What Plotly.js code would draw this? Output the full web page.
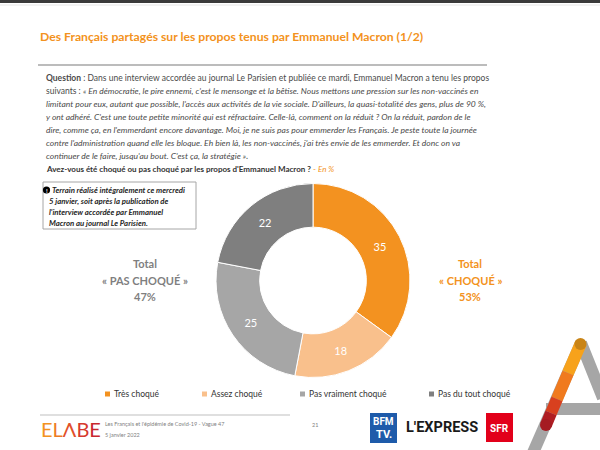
<!DOCTYPE html>
<html><head><meta charset="utf-8">
<script src="https://cdn.plot.ly/plotly-3.0.1.min.js"></script>
<style>html,body{margin:0;padding:0;background:#fff}#chart{width:600px;height:450px}</style>
</head><body><div id="chart"></div>
<script>
// ---- data ----
const labels = ["Très choqué", "Assez choqué", "Pas vraiment choqué", "Pas du tout choqué"];
const values = [35, 18, 25, 22];
const colors = ["#F39220", "#F9C08C", "#A6A6A6", "#7F7F7F"];
const totalLabels = ["Total", "« PAS CHOQUÉ »", "Total", "« CHOQUÉ »"];
const totalChoque = values[0] + values[1];
const totalPasChoque = values[2] + values[3];

const titleText = "Des Français partagés sur les propos tenus par Emmanuel Macron (1/2)";
const questionLines = [
  "<b>Question</b> : Dans une interview accordée au journal Le Parisien et publiée ce mardi, Emmanuel Macron a tenu les propos",
  "suivants : <i>« En démocratie, le pire ennemi, c'est le mensonge et la bêtise. Nous mettons une pression sur les non-vaccinés en</i>",
  "<i>limitant pour eux, autant que possible, l'accès aux activités de la vie sociale. D'ailleurs, la quasi-totalité des gens, plus de 90 %,</i>",
  "<i>y ont adhéré. C'est une toute petite minorité qui est réfractaire. Celle-là, comment on la réduit ? On la réduit, pardon de le</i>",
  "<i>dire, comme ça, en l'emmerdant encore davantage. Moi, je ne suis pas pour emmerder les Français. Je peste toute la journée</i>",
  "<i>contre l'administration quand elle les bloque. Eh bien là, les non-vaccinés, j'ai très envie de les emmerder. Et donc on va</i>",
  "<i>continuer de le faire, jusqu'au bout. C'est ça, la stratégie »</i>."
];
const questionAsk = "<b>Avez-vous été choqué ou pas choqué par les propos d'Emmanuel Macron ?</b> <span style='color:#F39220'>- <i>En %</i></span>";
const noteLines = [
  "Terrain réalisé intégralement ce mercredi",
  "5 janvier, soit après la publication de",
  "l'interview accordée par Emmanuel",
  "Macron au journal Le Parisien."
];
const footerLines = ["Les Français et l'épidémie de Covid-19 - Vague 47", "5 janvier 2022"];
const pageNumber = "21";

// ---- helpers (pixel -> paper) ----
const W = 600, H = 450;
const X = x => x / W;
const Y = y => 1 - y / H;
const FONT = "Lato, 'Open Sans', sans-serif";
const TXT = "#4a4a4a";

const annotations = [];
const shapes = [];
function ann(x, y, text, opts) {
  annotations.push(Object.assign({
    xref: "paper", yref: "paper", x: X(x), y: Y(y), text: text, showarrow: false,
    xanchor: "left", yanchor: "middle", font: {family: FONT, size: 9, color: TXT}
  }, opts || {}));
}
function seg(x0, y0, x1, y1, color, w) {
  shapes.push({type: "line", xref: "paper", yref: "paper", x0: X(x0), x1: X(x1), y0: Y(y0), y1: Y(y1), line: {color: color, width: w}});
}
function dot(cx, cy, r, color) {
  shapes.push({type: "circle", xref: "paper", yref: "paper", x0: X(cx - r), x1: X(cx + r), y0: Y(cy + r), y1: Y(cy - r), fillcolor: color, line: {width: 0}});
}

// top dark bar
shapes.push({type: "rect", xref: "paper", yref: "paper", x0: 0, x1: 1, y0: Y(3), y1: Y(0), fillcolor: "#3a3a3a", line: {width: 0}});
seg(0, 5, 600, 5, "#e6e6e6", 1);

// title
ann(38, 37, "<b>" + titleText + "</b>", {font: {family: FONT, size: 12.2, color: "#F39220"}});
// rule
seg(38, 65, 487, 65, "#A6A6A6", 1.5);

// question
questionLines.forEach((t, i) => ann(44, 78 + i * 13, t, {font: {family: FONT, size: 8.5, color: TXT}}));
ann(44, 169, questionAsk, {font: {family: FONT, size: 8, color: "#333"}});

// note box
shapes.push({type: "rect", xref: "paper", yref: "paper", x0: X(43), x1: X(196), y0: Y(229), y1: Y(182), fillcolor: "rgba(0,0,0,0)", line: {color: "#A6A6A6", width: 1}});
dot(46.5, 190, 3.6, "#000");
ann(46.5, 190, "<b>!</b>", {xanchor: "center", font: {family: FONT, size: 6, color: "#fff"}});
noteLines.forEach((t, i) => ann(i === 0 ? 49.5 : 47, 190 + i * 11, "<b><i>" + t + "</i></b>", {font: {family: FONT, size: 7.8, color: "#262626"}}));

// totals
ann(145, 263, "<b>" + totalLabels[0] + "</b>", {xanchor: "center", font: {family: FONT, size: 11, color: "#7F7F7F"}});
ann(145, 280, "<b>" + totalLabels[1] + "</b>", {xanchor: "center", font: {family: FONT, size: 11, color: "#7F7F7F"}});
ann(145, 296, "<b>" + totalPasChoque + "%</b>", {xanchor: "center", font: {family: FONT, size: 11, color: "#7F7F7F"}});
ann(470, 263, "<b>" + totalLabels[2] + "</b>", {xanchor: "center", font: {family: FONT, size: 11, color: "#F39220"}});
ann(470, 280, "<b>" + totalLabels[3] + "</b>", {xanchor: "center", font: {family: FONT, size: 11, color: "#F39220"}});
ann(470, 296, "<b>" + totalChoque + "%</b>", {xanchor: "center", font: {family: FONT, size: 11, color: "#F39220"}});

// custom legend
const legendX = [107, 204, 302, 431];
labels.forEach((l, i) => {
  shapes.push({type: "rect", xref: "paper", yref: "paper", x0: X(legendX[i] - 2), x1: X(legendX[i] + 3), y0: Y(396.5), y1: Y(391.5), fillcolor: colors[i], line: {width: 0}});
  ann(legendX[i] + 5, 394, l, {font: {family: FONT, size: 8.5, color: "#333"}});
});

// footer
seg(40, 415, 290, 415, "#BFBFBF", 1);
ann(39, 429, "<span style='color:#F39220'>E</span><span style='color:#EE7A22'>L</span><span style='color:#E2502A'>Λ</span><span style='color:#D63A2E'>B</span><span style='color:#C8282E'>E</span>", {font: {family: FONT, size: 20, color: "#E2502A"}});
ann(103, 424, footerLines[0], {font: {family: FONT, size: 5.5, color: "#7F7F7F"}});
ann(103, 435, footerLines[1], {font: {family: FONT, size: 5.5, color: "#7F7F7F"}});
ann(315, 425, pageNumber, {xanchor: "center", font: {family: FONT, size: 5.5, color: "#7F7F7F"}});

// BFM TV logo
shapes.push({type: "rect", xref: "paper", yref: "paper", x0: X(370), x1: X(397), y0: Y(443), y1: Y(413), fillcolor: "#1E5BAA", line: {width: 0}});
ann(383.5, 421, "<b>BFM</b>", {xanchor: "center", font: {family: "Roboto, sans-serif", size: 10, color: "#fff"}});
ann(383.5, 434, "<b>TV.</b>", {xanchor: "center", font: {family: "Roboto, sans-serif", size: 11, color: "#fff"}});
// L'EXPRESS
ann(404, 427, "<b>L'EXPRESS</b>", {font: {family: "Roboto, sans-serif", size: 14.5, color: "#1a1a1a"}});
// SFR
shapes.push({type: "rect", xref: "paper", yref: "paper", x0: X(486), x1: X(513), y0: Y(442), y1: Y(413), fillcolor: "#E2001A", line: {width: 0}});
ann(499.5, 428, "<b>SFR</b>", {xanchor: "center", font: {family: "Roboto, sans-serif", size: 10, color: "#fff"}});

// decorative A
seg(581, 343, 603, 398, "#A6A6A6", 12);
seg(546, 409, 603, 409, "#A6A6A6", 12);
seg(581, 343, 532, 455, "#A6A6A6", 12);
seg(581, 343, 568, 373, "#F7A21B", 12);
seg(568, 373, 557, 399, "#F07A1E", 12);
seg(557, 399, 551, 413, "#D8401F", 12);
seg(551, 413, 546, 425, "#B01E23", 12);
dot(580.5, 344, 6, "#C98416");
dot(546, 425, 6, "#A51B22");

const trace = {
  type: "pie", labels: labels, values: values, sort: false, direction: "clockwise", rotation: 0,
  hole: 0.55, marker: {colors: colors, line: {color: "#fff", width: 1}},
  textinfo: "value", textposition: "inside", insidetextorientation: "horizontal",
  textfont: {family: FONT, size: 11, color: "#fff"},
  domain: {x: [X(216), X(410)], y: [Y(378), Y(183)]},
  showlegend: false, hoverinfo: "label+value"
};

const layout = {
  width: W, height: H, margin: {l: 0, r: 0, t: 0, b: 0},
  paper_bgcolor: "#fff", plot_bgcolor: "#fff", showlegend: false,
  annotations: annotations, shapes: shapes
};
Plotly.newPlot("chart", [trace], layout, {displayModeBar: false, staticPlot: true});
</script></body></html>
